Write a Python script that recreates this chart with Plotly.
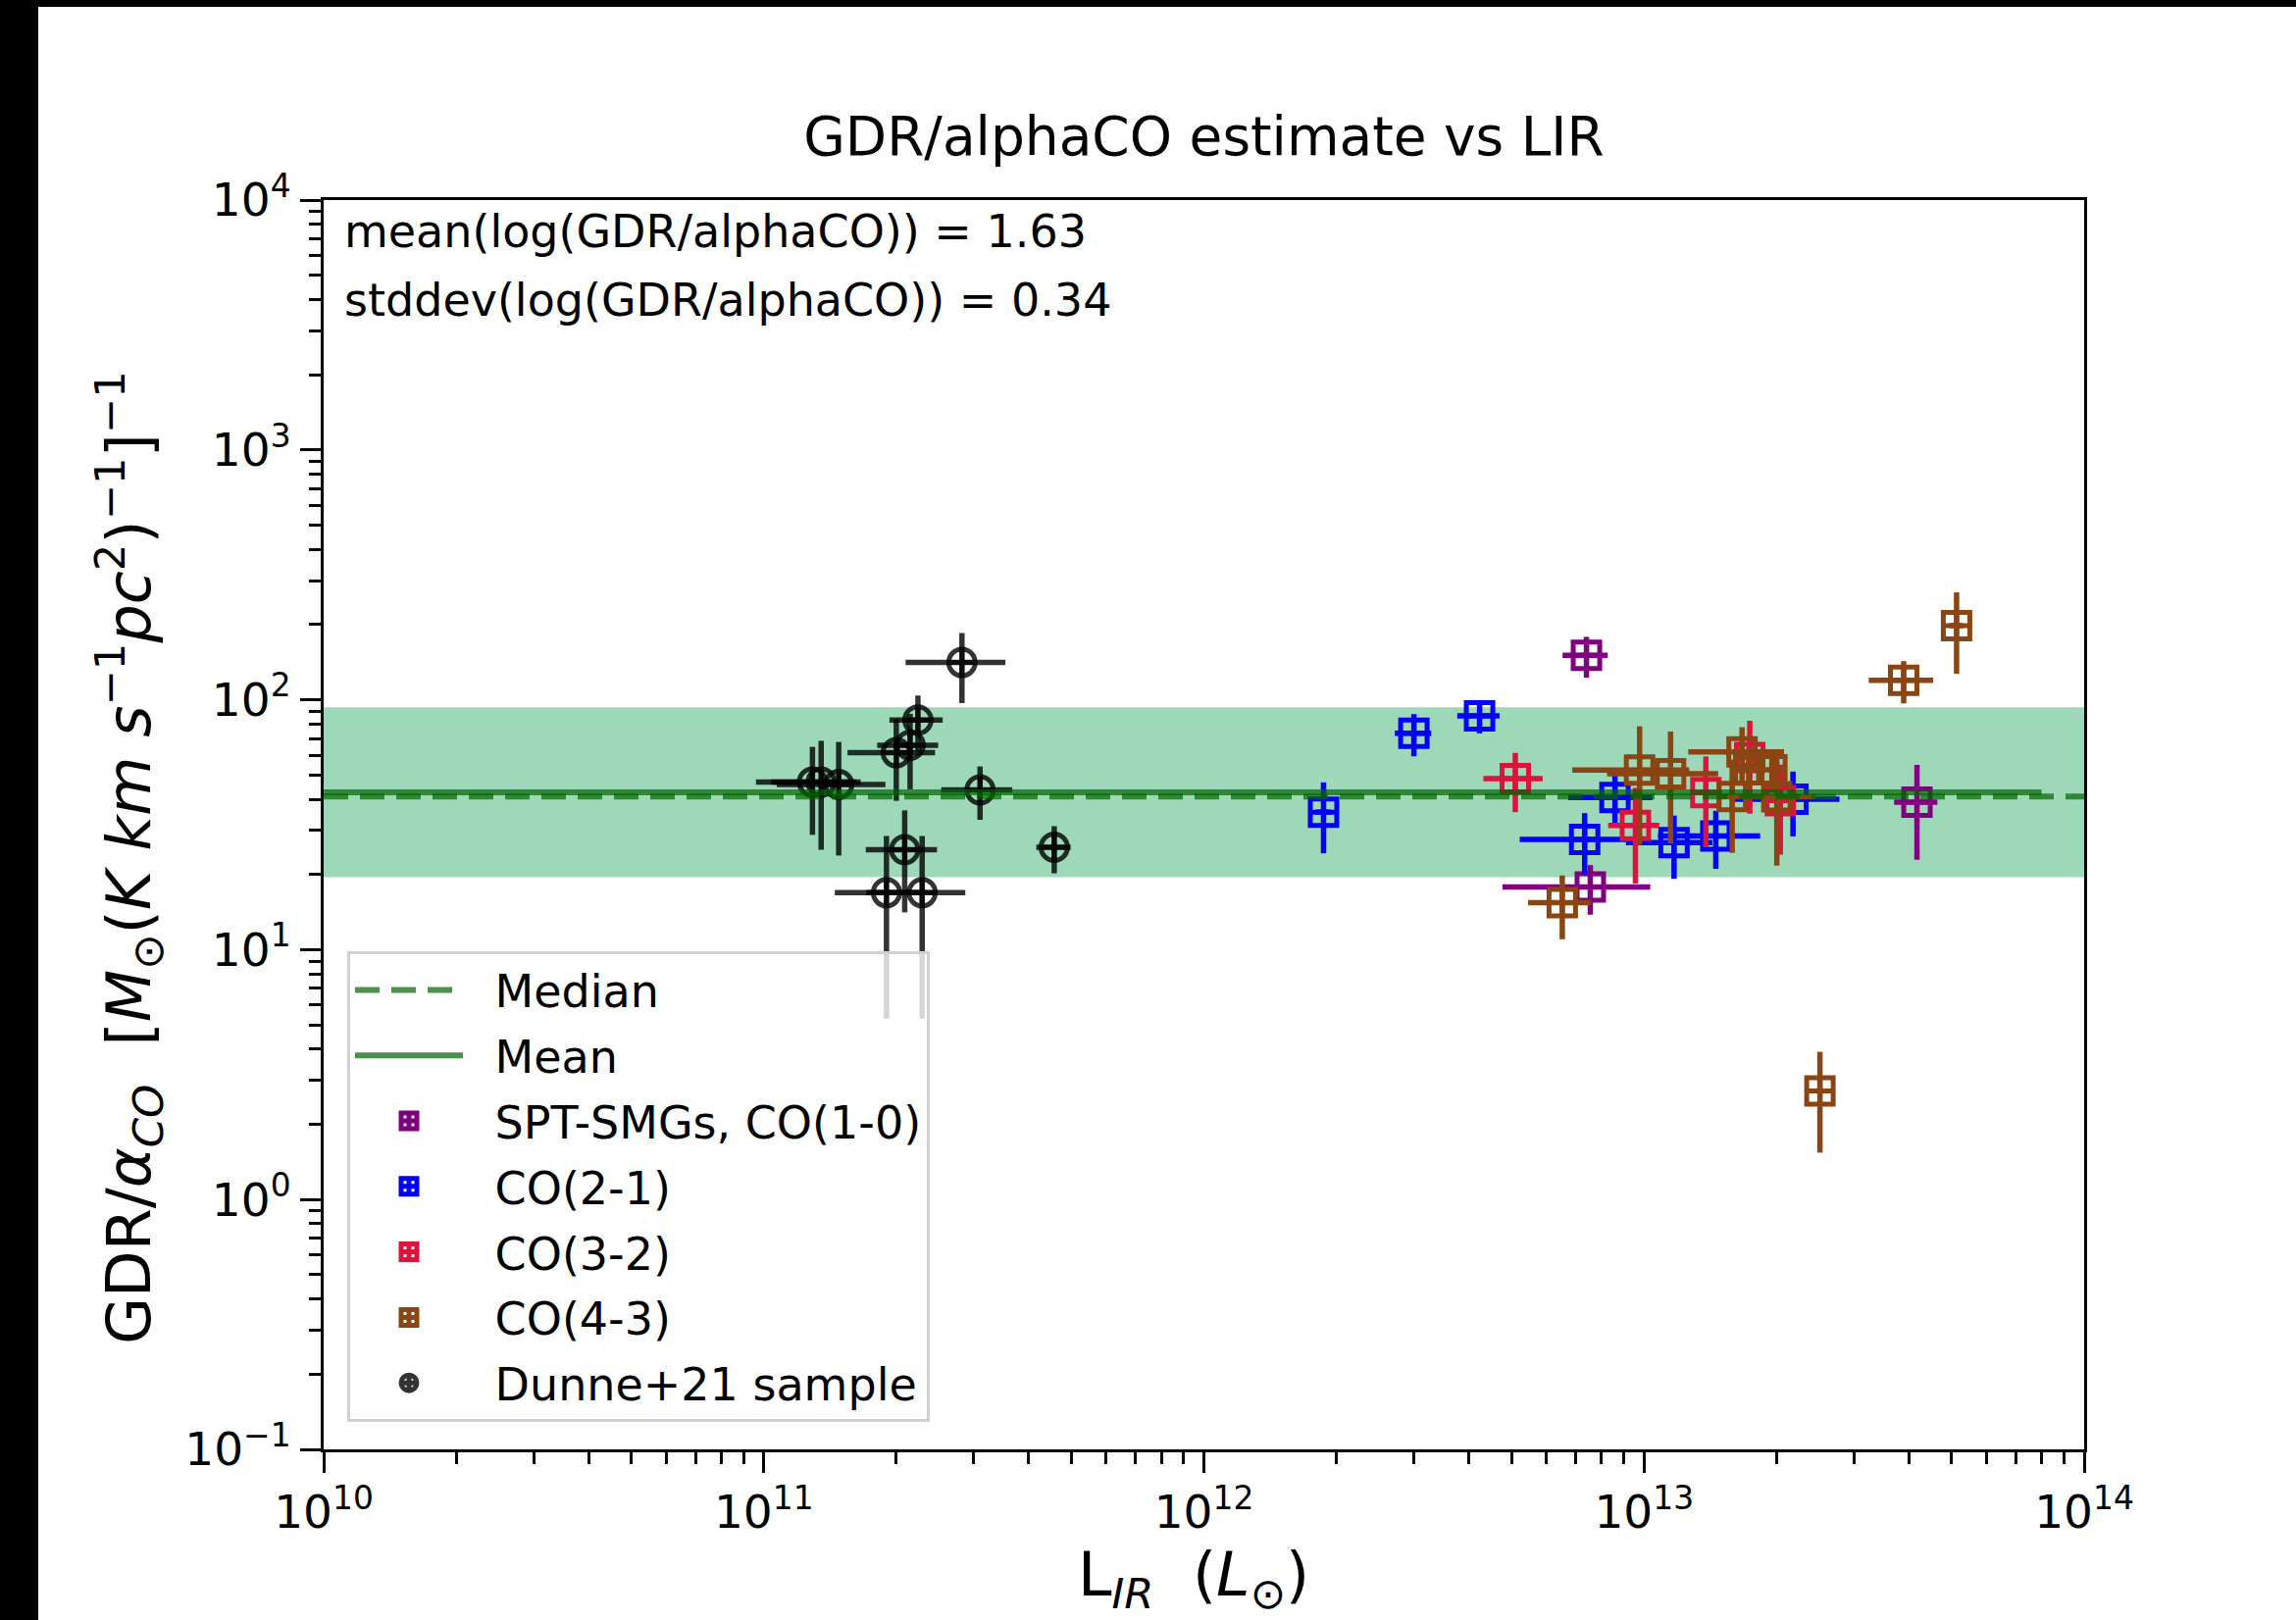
import plotly.graph_objects as go

# ---------------- data ----------------
dunne_lir = [2.82e11, 2.24e11, 2.15e11, 2.00e11, 3.10e11, 4.57e11, 2.09e11, 1.90e11, 2.29e11, 1.29e11, 1.35e11, 1.48e11]
dunne_lir_err = [0.72e11, 0.31e11, 0.34e11, 0.45e11, 0.57e11, 0.41e11, 0.385e11, 0.45e11, 0.58e11, 0.33e11, 0.31e11, 0.41e11]
dunne_gdr = [141, 83, 65.8, 61.4, 43.6, 25.7, 25.1, 16.9, 16.9, 46.8, 46.8, 45.8]
dunne_gdr_err = [44, 21, 22, 22, 10.5, 5.5, 11, 11.6, 11.6, 18, 21.7, 22]

spt_lir = [7.40e12, 7.55e12, 4.17e13]
spt_lir_err = [0.87e12, 2.78e12, 0.47e13]
spt_gdr = [150.6, 17.8, 38.9]
spt_gdr_err = [28, 4.0, 16]

co21_lir = [1.87e12, 3.00e12, 4.23e12, 8.59e12, 7.33e12, 1.17e13, 1.456e13, 2.18e13]
co21_lir_err = [0.075e12, 0.285e12, 0.465e12, 1.86e12, 2.11e12, 2.6e12, 3.8e12, 0.6e13]
co21_gdr = [35.5, 73.5, 86.2, 40.6, 27.6, 26.8, 28.5, 40.0]
co21_gdr_err = [11.2, 14.1, 12.8, 9.7, 7.6, 7.6, 7.45, 11.6]

co32_lir = [5.10e12, 9.56e12, 1.382e13, 1.739e13, 2.04e13]
co32_lir_err = [0.785e12, 1.27e12, 0.08e13, 0.05e13, 0.05e13]
co32_gdr = [48.4, 31.4, 42.5, 58.7, 39.5]
co32_gdr_err = [12.9, 13.0, 16.8, 23.7, 15.5]

co43_lir = [5.13e13, 3.89e13, 2.51e13, 6.52e12, 9.77e12, 1.149e13, 1.586e13, 1.67e13, 1.73e13, 1.952e13, 2.003e13]
co43_lir_err = [0.18e13, 0.65e13, 0.05e13, 1.07e12, 2.9e12, 3.25e12, 0.08e13, 0.41e13, 0.05e13, 0.05e13, 0.45e13]
co43_gdr = [198, 119.7, 2.72, 15.4, 52.3, 50.6, 41.0, 61.9, 52.5, 52.5, 40.9]
co43_gdr_err = [71, 23, 1.18, 4.4, 26, 24, 16.6, 15.7, 12, 10, 19.2]

mean_log = 1.63
std_log = 0.34
median_val = 41.0
x_min, x_max = 1e10, 1e14
mean_line_end = 8e13

x_tick_vals = [1e10, 1e11, 1e12, 1e13, 1e14]
x_tick_text = ["10<sup>10</sup>", "10<sup>11</sup>", "10<sup>12</sup>", "10<sup>13</sup>", "10<sup>14</sup>"]
y_tick_vals = [1e-1, 1e0, 1e1, 1e2, 1e3, 1e4]
y_tick_text = ["10<sup>\u22121</sup>", "10<sup>0</sup>", "10<sup>1</sup>", "10<sup>2</sup>", "10<sup>3</sup>", "10<sup>4</sup>"]

FONT = "DejaVu Sans"
LEG_PAD = "\u2002\u200a"
LINE_GREEN = "rgba(0,100,0,0.7)"

# --------------- figure ---------------
fig = go.Figure()

band_lo = 10 ** (mean_log - std_log)
band_hi = 10 ** (mean_log + std_log)
fig.add_trace(go.Scatter(
    x=[x_min, x_max, x_max, x_min, x_min],
    y=[band_lo, band_lo, band_hi, band_hi, band_lo],
    fill="toself", fillcolor="rgba(60,179,113,0.5)", mode="lines",
    line=dict(width=0), showlegend=False, hoverinfo="skip"))


def add_series(name, x, xe, y, ye, color, symbol, rank):
    fig.add_trace(go.Scatter(
        x=x, y=y, mode="markers", name=LEG_PAD + name, legendrank=rank, legendgroup=name,
        marker=dict(symbol=symbol, size=27, color=color,
                    line=dict(color=color, width=5)),
        error_x=dict(type="data", array=xe, symmetric=True, color=color,
                     thickness=5.5, width=0),
        error_y=dict(type="data", array=ye, symmetric=True, color=color,
                     thickness=5.5, width=0),
    ))


add_series("SPT-SMGs, CO(1-0)", spt_lir, spt_lir_err, spt_gdr, spt_gdr_err, "#800080", "square-cross-open", 3)
add_series("CO(2-1)", co21_lir, co21_lir_err, co21_gdr, co21_gdr_err, "#0000ff", "square-cross-open", 4)
add_series("CO(3-2)", co32_lir, co32_lir_err, co32_gdr, co32_gdr_err, "#dc143c", "square-cross-open", 5)
add_series("CO(4-3)", co43_lir, co43_lir_err, co43_gdr, co43_gdr_err, "#8b4513", "square-cross-open", 6)
add_series("Dunne+21 sample", dunne_lir, dunne_lir_err, dunne_gdr, dunne_gdr_err, "rgba(0,0,0,0.8)", "circle-cross-open", 7)

fig.add_trace(go.Scatter(
    x=[x_min, x_max], y=[median_val, median_val], mode="lines", name=LEG_PAD + "Median",
    legendrank=1, legendgroup="Median",
    line=dict(color=LINE_GREEN, width=6, dash="25px,12px")))
fig.add_trace(go.Scatter(
    x=[x_min, mean_line_end], y=[10 ** mean_log, 10 ** mean_log], mode="lines", name=LEG_PAD + "Mean",
    legendrank=2, legendgroup="Mean",
    line=dict(color=LINE_GREEN, width=6)))

W, H = 2341, 1652
L, R, T, B = 330, 216, 204, 174
pw, ph = W - L - R, H - T - B


def px_x(v):
    return (v - L) / pw


def px_y(v):
    return (H - B - v) / ph


x_minor = [m * 10 ** k for k in range(10, 14) for m in range(2, 10)]
y_minor = [m * 10.0 ** k for k in range(-1, 4) for m in range(2, 10)]

axis_common = dict(
    showgrid=False, zeroline=False, showline=True, linecolor="black", linewidth=3,
    mirror=True, ticks="outside", ticklen=21, tickwidth=3, tickcolor="black",
    tickfont=dict(family=FONT, size=47, color="black"), tickmode="array",
)

fig.update_xaxes(type="log", range=[10, 14], tickvals=x_tick_vals, ticktext=x_tick_text,
                 minor=dict(tickmode="array", tickvals=x_minor, ticks="outside", ticklen=12,
                            tickwidth=2.5, tickcolor="black"),
                 **axis_common)
fig.update_yaxes(type="log", range=[-1, 4], tickvals=y_tick_vals, ticktext=y_tick_text,
                 minor=dict(tickmode="array", tickvals=y_minor, ticks="outside", ticklen=12,
                            tickwidth=2.5, tickcolor="black"),
                 **axis_common)

x_title = "L<sub><i>IR</i></sub>  (<i>L</i><sub>\u2299</sub>)"
y_title = ("GDR/<i>\u03b1</i><sub><i>CO</i></sub>  [<i>M</i><sub>\u2299</sub>(<i>K km s</i>"
           "<sup>\u22121</sup><i>pc</i><sup>2</sup>)<sup>\u22121</sup>]<sup>\u22121</sup>")

fig.update_layout(
    width=W, height=H, autosize=False,
    margin=dict(l=L, r=R, t=T, b=B, pad=0),
    paper_bgcolor="black", plot_bgcolor="white",
    font=dict(family=FONT, color="black"),
    title=dict(text="GDR/alphaCO estimate vs LIR", x=px_x((L + W - R) / 2), xref="paper",
               xanchor="center", y=1 - 139 / H, yref="container", yanchor="middle",
               font=dict(family=FONT, size=55, color="black")),
    legend=dict(x=px_x(354), y=px_y(970), xanchor="left", yanchor="top",
                bgcolor="rgba(255,255,255,0.8)", bordercolor="#d0d0d0", borderwidth=3,
                font=dict(family=FONT, size=46, color="black"), itemwidth=110,
                traceorder="grouped", tracegroupgap=4),
    shapes=[dict(type="rect", xref="paper", yref="paper", layer="below",
                 x0=px_x(39), x1=px_x(W + 5), y0=px_y(H + 5), y1=px_y(7),
                 fillcolor="white", line=dict(width=0))],
    annotations=[
        dict(text="mean(log(GDR/alphaCO)) = 1.63", xref="paper", yref="paper",
             x=px_x(349), y=px_y(236), xanchor="left", yanchor="middle", showarrow=False,
             font=dict(family=FONT, size=46, color="black")),
        dict(text="stddev(log(GDR/alphaCO)) = 0.34", xref="paper", yref="paper",
             x=px_x(349), y=px_y(306), xanchor="left", yanchor="middle", showarrow=False,
             font=dict(family=FONT, size=46, color="black")),
        dict(text=x_title, xref="paper", yref="paper", x=px_x(1217), y=px_y(1609),
             xanchor="center", yanchor="middle", showarrow=False,
             font=dict(family=FONT, size=62, color="black")),
        dict(text=y_title, xref="paper", yref="paper", x=px_x(131), y=px_y(875),
             xanchor="center", yanchor="middle", showarrow=False, textangle=-90,
             font=dict(family=FONT, size=62, color="black")),
    ],
)

fig.write_html("out.html", config={"displayModeBar": False},
               post_script="document.body.style.margin='0px';document.body.style.padding='0px';"
                           "document.body.style.overflow='hidden';")
